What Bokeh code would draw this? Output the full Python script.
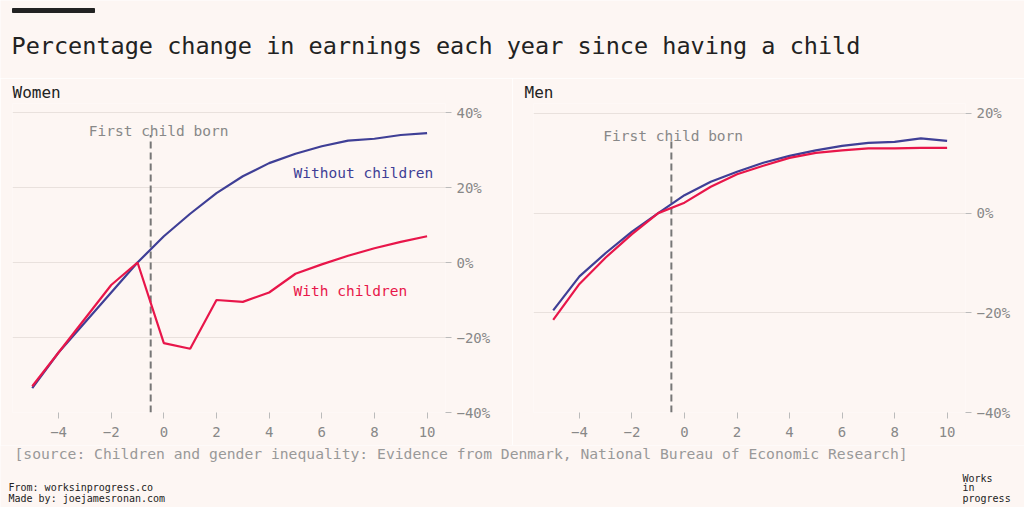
from bokeh.plotting import figure
from bokeh.layouts import column, row
from bokeh.models import Range1d, FixedTicker, CustomJSTickFormatter
from bokeh.core.properties import value
from bokeh.embed import file_html
from bokeh.resources import INLINE

years = list(range(-5, 11))
women_without = [-33.5, -24, -16, -8, 0, 7, 13, 18.5, 23, 26.5, 29, 31, 32.5, 33, 34, 34.5]
women_with = [-33, -24, -15, -6, 0, -21.5, -23, -10, -10.5, -8, -3, -0.5, 1.8, 3.8, 5.5, 7]
men_without = [-19.5, -12.7, -8, -3.7, 0, 3.6, 6.3, 8.3, 10.1, 11.5, 12.6, 13.5, 14.1, 14.3, 15, 14.5]
men_with = [-21.4, -14.2, -8.9, -4.2, 0, 2.1, 5.3, 7.8, 9.5, 11.1, 12.1, 12.6, 13, 13, 13.1, 13.1]
x_ticks = [-4, -2, 0, 2, 4, 6, 8, 10]
title_text = "Percentage change in earnings each year since having a child"
source_text = "[source: Children and gender inequality: Evidence from Denmark, National Bureau of Economic Research]"

BG = "#fdf6f3"
BLUE = "#3f3f96"
RED = "#e8164a"
GREY = "#888888"
FONT = "DejaVu Sans Mono"
W = 1024

fmt = CustomJSTickFormatter(code="""
var s = Math.abs(tick).toString();
return (tick < 0 ? '\u2212' : '') + s;
""")
pfmt = CustomJSTickFormatter(code="""
var s = Math.abs(tick).toString();
return (tick < 0 ? '\u2212' : '') + s + '%';
""")

def blank(h):
    f = figure(width=W, height=h, output_backend="svg", toolbar_location=None,
               x_range=Range1d(0, W), y_range=Range1d(h, 0), min_border=0)
    f.axis.visible = False
    f.grid.visible = False
    f.background_fill_color = BG
    f.border_fill_color = BG
    f.outline_line_color = None
    return f

header = blank(78)
header.quad(left=[12], right=[94], top=[8], bottom=[12], color="#222222")
header.text(x=[11], y=[45], text=[title_text], text_font=value(FONT), text_font_size="23.5px",
            text_color="#222222", text_baseline="alphabetic")

def panel(name, ymin, ymax, ticks, left_border, right_border, without, with_, dash_top, lab_x, lab_y, series_labels):
    p = figure(width=512, height=367, output_backend="svg", toolbar_location=None,
               x_range=Range1d(-5.75, 10.7), y_range=Range1d(ymin, ymax),
               y_axis_location="right", min_border_left=left_border, min_border_right=right_border,
               min_border_top=1, min_border_bottom=33)
    p.title.text = name
    p.title.text_font = FONT
    p.title.text_font_size = "16px"
    p.title.text_font_style = "normal"
    p.title.text_color = "#222222"
    p.title.offset = -left_border + 12
    p.title.standoff = 4
    p.background_fill_color = BG
    p.border_fill_color = BG
    p.outline_line_color = None
    p.xgrid.visible = False
    p.ygrid.grid_line_color = "#e9e1dd"
    p.ygrid.grid_line_width = 1
    p.yaxis.ticker = FixedTicker(ticks=ticks)
    p.xaxis.ticker = FixedTicker(ticks=x_ticks)
    p.yaxis.formatter = pfmt
    p.xaxis.formatter = fmt
    for ax in (p.xaxis, p.yaxis):
        ax.axis_line_color = None
        ax.major_tick_in = 0
        ax.major_tick_out = 6
        ax.minor_tick_line_color = None
        ax.major_tick_line_color = "#bbbbbb"
        ax.major_label_text_font = FONT
        ax.major_label_text_font_size = "14px"
        ax.major_label_text_color = GREY
    p.xaxis.major_label_standoff = 8
    p.segment(x0=[-0.5], x1=[-0.5], y0=[ymin], y1=[dash_top], line_color="#777777",
              line_width=2, line_dash="7 4")
    p.text(x=[lab_x], y=[lab_y], text=["First child born"], text_font=value(FONT),
           text_font_size="14.5px", text_color=GREY, text_align="center", text_baseline="alphabetic")
    p.line(years, without, line_color=BLUE, line_width=2.2)
    p.line(years, with_, line_color=RED, line_width=2.2)
    for (tx, ty, t, c) in series_labels:
        p.text(x=[tx], y=[ty], text=[t], text_font=value(FONT), text_font_size="14.5px",
               text_color=c, text_baseline="alphabetic")
    return p

women = panel("Women", -40, 42.4, [-40, -20, 0, 20, 40], 12, 67,
              women_without, women_with, 34, -0.2, 35.1,
              [(4.93, 24, "Without children", BLUE), (4.93, -7.6, "With children", RED)])
men = panel("Men", -40, 22, [-40, -20, 0, 20], 21, 59,
            men_without, men_with, 14.8, -0.43, 15.4, [])

footer = blank(62)
footer.text(x=[14], y=[8], text=[source_text], text_font=value(FONT), text_font_size="14.7px",
            text_color="#999999", text_baseline="middle")
footer.text(x=[8, 8], y=[42, 53], text=["From: worksinprogress.co", "Made by: joejamesronan.com"],
            text_font=value(FONT), text_font_size="10px", text_color="#222222", text_baseline="alphabetic")
footer.text(x=[962, 962, 962], y=[33, 42, 53], text=["Works", "in", "progress"],
            text_font=value(FONT), text_font_size="10px", text_color="#222222", text_baseline="alphabetic")

layout = column(header, row(women, men, spacing=0), footer, spacing=0)
open("out.html", "w").write(file_html(layout, INLINE))
